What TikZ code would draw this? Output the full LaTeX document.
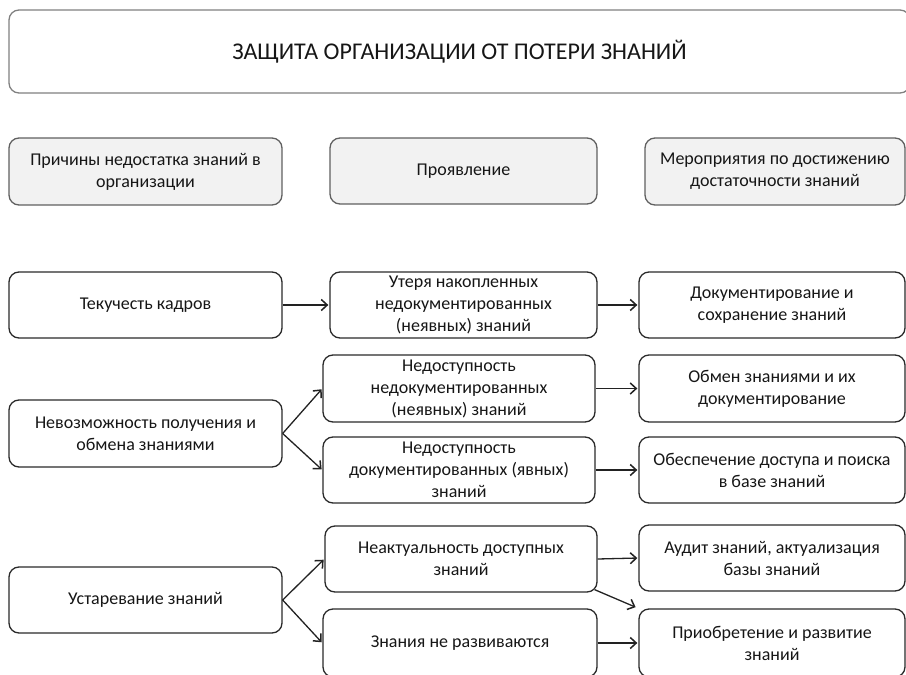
\documentclass[tikz,border=0pt]{standalone}
\usepackage{fontspec}
\setmainfont{Carlito}
\usetikzlibrary{arrows.meta}
\definecolor{boxline}{HTML}{2A2A2A}
\definecolor{headline}{HTML}{606060}
\definecolor{headfill}{HTML}{F2F2F2}
\definecolor{titleline}{HTML}{808080}
\definecolor{txt}{HTML}{161616}
\definecolor{arrowline}{HTML}{222222}
\begin{document}
\begin{tikzpicture}[x=1pt,y=-1pt,
  box/.style={draw=boxline, line width=1.3pt, rounded corners=10pt, align=center,
    inner sep=0pt, text=txt, font=\fontsize{18}{22}\selectfont},
  headbox/.style={box, draw=headline, fill=headfill},
  titlebox/.style={box, draw=titleline, font=\fontsize{24}{28}\selectfont},
  link/.style={-{Straight Barb[length=6pt,width=11pt,line width=1.5pt]},
    line width=1.3pt, draw=arrowline, shorten >=1pt}]
\clip (0,0) rectangle (906,675);

% title
\node[titlebox, minimum width=901pt, minimum height=83pt] (title) at (459.5,51.5)
  {ЗАЩИТА ОРГАНИЗАЦИИ ОТ ПОТЕРИ ЗНАНИЙ};

% column headings
\node[headbox, minimum width=273pt, minimum height=67pt] (h1) at (145.5,171.5)
  {Причины недостатка знаний в\\организации};
\node[headbox, minimum width=267pt, minimum height=66pt] (h2) at (463.5,171)
  {Проявление};
\node[headbox, minimum width=260pt, minimum height=67pt] (h3) at (775,171.5)
  {Мероприятия по достижению\\достаточности знаний};

% causes
\node[box, minimum width=273pt, minimum height=66pt] (a1) at (145.5,305)
  {Текучесть кадров};
\node[box, minimum width=273pt, minimum height=67pt] (a2) at (145.5,433.5)
  {Невозможность получения и\\обмена знаниями};
\node[box, minimum width=273pt, minimum height=66pt] (a3) at (145.5,600)
  {Устаревание знаний};

% manifestations
\node[box, minimum width=267pt, minimum height=66pt] (b1) at (463.5,305)
  {Утеря накопленных\\недокументированных\\(неявных) знаний};
\node[box, minimum width=272pt, minimum height=67pt] (b2) at (459,388.5)
  {Недоступность\\недокументированных\\(неявных) знаний};
\node[box, minimum width=272pt, minimum height=66pt] (b3) at (459,470)
  {Недоступность\\документированных (явных)\\знаний};
\node[box, minimum width=272pt, minimum height=66pt] (b4) at (461,559)
  {Неактуальность доступных\\знаний};
\node[box, minimum width=274pt, minimum height=68pt] (b5) at (460,643)
  {Знания не развиваются};

% measures
\node[box, minimum width=266pt, minimum height=66pt] (c1) at (772,305)
  {Документирование и\\сохранение знаний};
\node[box, minimum width=266pt, minimum height=67pt] (c2) at (772,388.5)
  {Обмен знаниями и их\\документирование};
\node[box, minimum width=266pt, minimum height=66pt] (c3) at (772,470)
  {Обеспечение доступа и поиска\\в базе знаний};
\node[box, minimum width=266pt, minimum height=66pt] (c4) at (772,558)
  {Аудит знаний, актуализация\\базы знаний};
\node[box, minimum width=266pt, minimum height=68pt] (c5) at (772,643)
  {Приобретение и развитие\\знаний};

% connectors
\draw[link] (a1.east) -- (b1.west);
\draw[link] (b1.east) -- (c1.west);
\draw[link] (a2.east) -- (b2.west);
\draw[link] (a2.east) -- (b3.west);
\draw[link] (b2.east) -- (c2.west);
\draw[link] (b3.east) -- (c3.west);
\draw[link] (a3.east) -- (b4.west);
\draw[link] (a3.east) -- (b5.west);
\draw[link] (b4.east) -- (c4.west);
\draw[link, shorten >=3pt] ([shift={(-3pt,3pt)}]b4.south east) -- (c5.north west);
\draw[link] (b5.east) -- (c5.west);
\end{tikzpicture}
\end{document}
